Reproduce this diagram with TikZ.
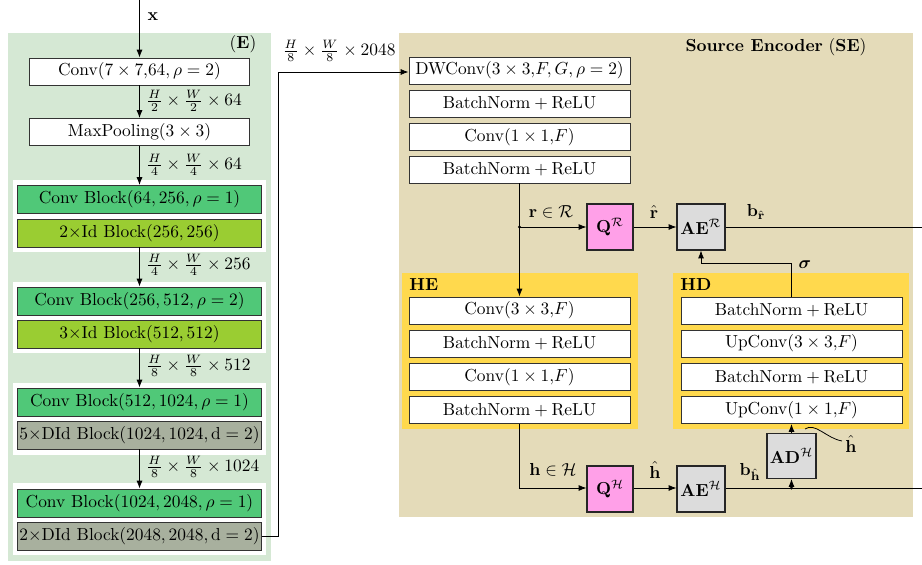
\documentclass[tikz,border=0pt]{standalone}
\usepackage{amsmath,amssymb,bm}
\usetikzlibrary{arrows.meta,calc}
\definecolor{encgreen}{RGB}{213,232,212}
\definecolor{convgreen}{RGB}{80,200,120}
\definecolor{idgreen}{RGB}{154,205,50}
\definecolor{didgray}{RGB}{168,176,158}
\definecolor{setan}{RGB}{228,219,185}
\definecolor{hyellow}{RGB}{255,217,77}
\definecolor{qpink}{RGB}{255,160,232}
\definecolor{aegray}{RGB}{220,220,220}
% one drawing unit
\newdimen\pxu \pxu=0.575pt
\tikzset{
  layer/.style={draw=black!80, line width=0.5pt, inner sep=0pt, fill=white,
    minimum width=221*\pxu, minimum height=27*\pxu},
  blk/.style={draw=black!80, line width=0.5pt, inner sep=0pt,
    minimum width=244*\pxu, minimum height=28*\pxu},
  sq/.style={draw=black!85, line width=0.6pt, inner sep=0pt,
    minimum width=46*\pxu, minimum height=46*\pxu},
  arr/.style={line width=0.45pt, -{Latex[length=4.5pt,width=3.4pt]}},
  ln/.style={line width=0.45pt},
  lbl/.style={inner sep=0pt},
}
\begin{document}
\begin{tikzpicture}[x=\pxu,y=-\pxu]
\useasboundingbox (0,0) rectangle (922,564);
% ---------- encoder backbone (E) ----------
\fill[encgreen] (8,33) rectangle (271,561);
\fill[white] (13,180) rectangle (266,252);
\fill[white] (13,282) rectangle (266,353);
\fill[white] (13,383) rectangle (266,455);
\fill[white] (13,483) rectangle (266,555);
\node[lbl] (elab) at (243,44) {$(\mathbf{E})$};

\coordinate (xin) at (139.5,0);
\node[layer,minimum width=220*\pxu] (c7) at (139.5,71.5) {Conv$(7\times 7{,}64,\rho=2)$};
\node[layer,minimum width=220*\pxu] (mp) at (139.5,132) {MaxPooling$(3\times 3)$};
\node[blk,fill=convgreen] (cb1) at (139.5,199.5) {Conv Block$(64,256,\rho=1)$};
\node[blk,fill=idgreen] (id1) at (139.5,233) {$2\times$Id Block$(256,256)$};
\node[blk,fill=convgreen] (cb2) at (139.5,301) {Conv Block$(256,512,\rho=2)$};
\node[blk,fill=idgreen] (id2) at (139.5,334) {$3\times$Id Block$(512,512)$};
\node[blk,fill=convgreen] (cb3) at (139.5,402) {Conv Block$(512,1024,\rho=1)$};
\node[blk,fill=didgray] (did3) at (139.5,435) {$5\times$DId Block$(1024,1024,\mathrm{d}=2)$};
\node[blk,fill=convgreen] (cb4) at (139.5,503) {Conv Block$(1024,2048,\rho=1)$};
\node[blk,fill=didgray] (did4) at (139.5,536) {$2\times$DId Block$(2048,2048,\mathrm{d}=2)$};

\draw[arr] (xin) -- (c7.north);
\node[lbl] (xlab) at (153,17) {$\mathbf{x}$};
\draw[arr] (c7) -- (mp);
\node[lbl,anchor=west] (s1) at (146,101) {$\frac{H}{2}\times\frac{W}{2}\times 64$};
\draw[arr] (mp) -- (cb1);
\node[lbl,anchor=west] (s2) at (146,165) {$\frac{H}{4}\times\frac{W}{4}\times 64$};
\draw[arr] (id1) -- (cb2);
\node[lbl,anchor=west] (s3) at (146,265) {$\frac{H}{4}\times\frac{W}{4}\times 256$};
\draw[arr] (id2) -- (cb3);
\node[lbl,anchor=west] (s4) at (146,366) {$\frac{H}{8}\times\frac{W}{8}\times 512$};
\draw[arr] (did3) -- (cb4);
\node[lbl,anchor=west] (s5) at (146,467) {$\frac{H}{8}\times\frac{W}{8}\times 1024$};

% ---------- source encoder (SE) ----------
\fill[setan] (399,33) rectangle (913,517);
\node[lbl] (selab) at (776,47) {\textbf{Source Encoder} (\textbf{SE})};
\fill[hyellow] (402,273) rectangle (638,429);
\fill[hyellow] (673,273) rectangle (909,429);
\node[lbl,anchor=west] (helab) at (409,285) {\textbf{HE}};
\node[lbl,anchor=west] (hdlab) at (680,285) {\textbf{HD}};

\node[layer] (dw) at (519.5,70.5) {DWConv$(3\times 3{,}F,G,\rho=2)$};
\node[layer] (bn1) at (519.5,103.5) {$\mathrm{BatchNorm}+\mathrm{ReLU}$};
\node[layer] (pw) at (519.5,137) {Conv$(1\times 1{,}F)$};
\node[layer] (bn2) at (519.5,169.5) {$\mathrm{BatchNorm}+\mathrm{ReLU}$};

\node[layer] (he1) at (519.5,310.5) {Conv$(3\times 3{,}F)$};
\node[layer] (he2) at (519.5,343.5) {$\mathrm{BatchNorm}+\mathrm{ReLU}$};
\node[layer] (he3) at (519.5,377) {Conv$(1\times 1{,}F)$};
\node[layer] (he4) at (519.5,410) {$\mathrm{BatchNorm}+\mathrm{ReLU}$};

\node[layer] (hd1) at (791.5,310.5) {$\mathrm{BatchNorm}+\mathrm{ReLU}$};
\node[layer] (hd2) at (791.5,343.5) {UpConv$(3\times 3{,}F)$};
\node[layer] (hd3) at (791.5,377) {$\mathrm{BatchNorm}+\mathrm{ReLU}$};
\node[layer] (hd4) at (791.5,410) {UpConv$(1\times 1{,}F)$};

\node[sq,fill=qpink] (qr) at (610,227) {$\mathbf{Q}^{\mathcal{R}}$};
\node[sq,fill=aegray,minimum width=48*\pxu] (aer) at (701,227) {$\mathbf{AE}^{\mathcal{R}}$};
\node[sq,fill=qpink] (qh) at (610,489) {$\mathbf{Q}^{\mathcal{H}}$};
\node[sq,fill=aegray,minimum width=48*\pxu] (aeh) at (701,489) {$\mathbf{AE}^{\mathcal{H}}$};
\node[sq,fill=aegray,minimum width=49*\pxu,minimum height=45*\pxu] (adh) at (791.5,456) {$\mathbf{AD}^{\mathcal{H}}$};

% backbone output into the source encoder
\coordinate (bend) at (278,536);
\draw[arr] (did4.east) -- (bend) |- (dw.west |- 0,72);
\node[lbl] (s6) at (339,51) {$\frac{H}{8}\times\frac{W}{8}\times 2048$};

% latent r
\coordinate (rsplit) at (519.5,227);
\draw[ln] (bn2.south) -- (rsplit);
\fill (rsplit) circle (1.6);
\draw[arr] (rsplit) -- (qr.west);
\draw[arr] (rsplit) -- (he1.north);
\node[lbl] (rlab) at (551,212) {$\mathbf{r}\in\mathcal{R}$};
\draw[arr] (qr) -- (aer);
\node[lbl] (rhat) at (654,212) {$\hat{\mathbf{r}}$};
\coordinate (rout) at (922,227);
\draw[ln] (aer.east) -- (rout);
\node[lbl] (brlab) at (756,212) {$\mathbf{b}_{\hat{\mathbf{r}}}$};

% hyperprior path
\coordinate (hcorner) at (519.5,488);
\draw[arr] (he4.south) -- (hcorner) -- (qh.west |- hcorner);
\node[lbl] (hlab) at (553,470) {$\mathbf{h}\in\mathcal{H}$};
\draw[arr] (qh.east |- hcorner) -- (aeh.west |- hcorner);
\node[lbl] (hhat) at (655,470) {$\hat{\mathbf{h}}$};
\coordinate (hout) at (922,488);
\coordinate (hsplit) at (791.5,488);
\draw[ln] (aeh.east |- hout) -- (hout);
\fill (hsplit) circle (1.6);
\draw[arr] (hsplit) -- (adh.south);
\node[lbl] (bhlab) at (750,472) {$\mathbf{b}_{\hat{\mathbf{h}}}$};
\draw[arr] (adh.north) -- (hd4.south);
\coordinate (pinstart) at (805,429);
\node[lbl] (hpin) at (851,444) {$\hat{\mathbf{h}}$};
\draw[ln] (pinstart) .. controls (815,422) and (826,438) .. (842,441);

% scale sigma back to the entropy coder
\coordinate (sgtop) at (791.5,263);
\draw[arr] (hd1.north) -- (sgtop) -| (aer.south);
\node[lbl] (sglab) at (805,265) {$\bm{\sigma}$};
\end{tikzpicture}
\end{document}
